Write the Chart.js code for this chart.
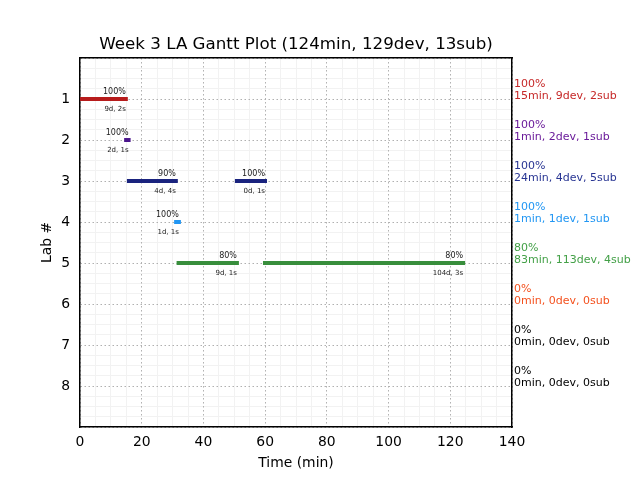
<!DOCTYPE html>
<html>
<head>
<meta charset="utf-8">
<script src="https://cdn.jsdelivr.net/npm/chart.js@4"></script>
<style>
  body { margin: 0; background: #fff; }
  canvas { display: block; }
</style>
</head>
<body>
<canvas id="gantt" width="640" height="480"></canvas>
<script>
// labs on the y axis
var labs = [1, 2, 3, 4, 5, 6, 7, 8];
var labPct = ["100%", "100%", "100%", "100%", "80%", "0%", "0%", "0%"];
var labSummary = ["15min, 9dev, 2sub", "1min, 2dev, 1sub", "24min, 4dev, 5sub", "1min, 1dev, 1sub",
  "83min, 113dev, 4sub", "0min, 0dev, 0sub", "0min, 0dev, 0sub", "0min, 0dev, 0sub"];
var labTextColors = ["#c62828", "#6a1b9a", "#283593", "#2196f3", "#43a047", "#f4511e", "#000000", "#000000"];
var labBarColors = ["#b71c1c", "#4a148c", "#1a237e", "#2196f3", "#388e3c", "#f4511e", "#000000", "#000000"];

// gantt segments
var taskLab = [1, 2, 3, 3, 4, 5, 5];
var taskStart = [0, 14.3, 15.2, 50.2, 30.5, 31.3, 59.3];
var taskEnd = [15.5, 16.4, 31.7, 60.6, 32.7, 51.5, 124.8];
var taskPct = ["100%", "100%", "90%", "100%", "100%", "80%", "80%"];
var taskInfo = ["9d, 2s", "2d, 1s", "4d, 4s", "0d, 1s", "1d, 1s", "9d, 1s", "104d, 3s"];

var xTicks = [0, 20, 40, 60, 80, 100, 120, 140];

var FONT = "'DejaVu Sans', sans-serif";

var datasets = [];
for (var i = 0; i < taskLab.length; i++) {
  datasets.push({
    data: [{ x: taskStart[i], y: taskLab[i] }, { x: taskEnd[i], y: taskLab[i] }],
    borderColor: labBarColors[taskLab[i] - 1],
    borderWidth: 4,
    borderCapStyle: "butt",
    pointRadius: 0,
    pointHoverRadius: 0,
    showLine: true,
    fill: false
  });
}

// little text above/below each segment
var segLabels = {
  id: "segLabels",
  afterDatasetsDraw: function (chart) {
    var ctx = chart.ctx;
    var xs = chart.scales.x, ys = chart.scales.y;
    ctx.save();
    ctx.textAlign = "right";
    ctx.textBaseline = "middle";
    ctx.fillStyle = "#222";
    for (var i = 0; i < taskLab.length; i++) {
      var px = xs.getPixelForValue(taskEnd[i]) - 2;
      var py = ys.getPixelForValue(taskLab[i]);
      ctx.font = "8px " + FONT;
      ctx.fillText(taskPct[i], px, py - 7);
      ctx.font = "7px " + FONT;
      ctx.fillText(taskInfo[i], px, py + 10);
    }
    ctx.restore();
  }
};

var whiteBg = {
  id: "whiteBg",
  beforeDraw: function (chart) {
    var ctx = chart.ctx;
    ctx.save();
    ctx.fillStyle = "#fff";
    ctx.fillRect(0, 0, chart.width, chart.height);
    ctx.restore();
  }
};

var ctx = document.getElementById("gantt").getContext("2d");
var ganttChart = new Chart(ctx, {
  type: "scatter",
  data: { datasets: datasets },
  plugins: [whiteBg, segLabels],
  options: {
    responsive: false,
    animation: false,
    events: [],
    layout: { padding: 0 },
    plugins: {
      legend: { display: false },
      tooltip: { enabled: false },
      title: {
        display: true,
        fullSize: false,
        text: "Week 3 LA Gantt Plot (124min, 129dev, 13sub)",
        color: "#000",
        font: { family: FONT, size: 16.7, weight: "normal", lineHeight: 1.2 },
        padding: { top: 34.5, bottom: 3.5 }
      }
    },
    scales: {
      xMinor: {
        type: "linear", position: "bottom", min: 0, max: 140,
        ticks: { display: false, stepSize: 5 },
        grid: {
          drawTicks: false,
          color: function (c) { return c.tick && c.tick.value % 20 === 0 ? "rgba(0,0,0,0)" : "#f2f2f2"; }
        },
        border: { display: false },
        afterFit: function (s) { s.height = 0; }
      },
      yMinor: {
        type: "linear", position: "left", min: 0, max: 9, reverse: true,
        ticks: { display: false, stepSize: 0.25 },
        grid: {
          drawTicks: false,
          color: function (c) { return c.tick && c.tick.value % 1 === 0 ? "rgba(0,0,0,0)" : "#f2f2f2"; }
        },
        border: { display: false },
        afterFit: function (s) { s.width = 0; }
      },
      x: {
        type: "linear", position: "bottom", min: 0, max: 140,
        afterBuildTicks: function (s) { s.ticks = xTicks.map(function (v) { return { value: v }; }); },
        ticks: { color: "#000", font: { family: FONT, size: 13.9 }, padding: 7.5, maxRotation: 0, autoSkip: false },
        grid: { drawTicks: false, color: "#b0b0b0", lineWidth: 1 },
        border: { display: true, color: "#000", width: 1.5, dash: [1.5, 2.5] },
        title: {
          display: true, text: "Time (min)", color: "#000",
          font: { family: FONT, size: 13.9, lineHeight: 1.2 },
          padding: { top: 0, bottom: 8.7 }
        },
        afterFit: function (s) { s.height = 53; }
      },
      xTop: {
        type: "linear", position: "top", min: 0, max: 140,
        ticks: { display: false },
        grid: { display: false, drawTicks: false },
        border: { display: true, color: "#000", width: 1.5 },
        afterFit: function (s) { s.height = 0; }
      },
      y: {
        type: "linear", position: "left", min: 0, max: 9, reverse: true,
        ticks: {
          stepSize: 1, autoSkip: false, color: "#000",
          font: { family: FONT, size: 13.9 }, padding: 10,
          callback: function (v) { return labs.indexOf(v) >= 0 ? String(v) : ""; }
        },
        grid: { drawTicks: false, color: "#b0b0b0", lineWidth: 1 },
        border: { display: true, color: "#000", width: 1.5, dash: [1.5, 2.5] },
        title: {
          display: true, text: "Lab #", color: "#000",
          font: { family: FONT, size: 13.9, lineHeight: 1.2 },
          padding: { top: 38.7, bottom: 0 }
        },
        afterFit: function (s) { s.width = 80; }
      },
      yR: {
        type: "linear", position: "right", min: 0, max: 9, reverse: true,
        ticks: {
          stepSize: 1, autoSkip: false, padding: 2, labelOffset: -9,
          font: { family: FONT, size: 11, lineHeight: 1.15 },
          color: function (c) {
            var k = labs.indexOf(c.tick ? c.tick.value : -1);
            return k >= 0 ? labTextColors[k] : "#000";
          },
          callback: function (v) {
            var k = labs.indexOf(v);
            return k >= 0 ? [labPct[k], labSummary[k]] : "";
          }
        },
        grid: { display: false, drawTicks: false },
        border: { display: true, color: "#000", width: 1.5 },
        afterFit: function (s) { s.width = 128; }
      }
    }
  }
});
</script>
</body>
</html>
